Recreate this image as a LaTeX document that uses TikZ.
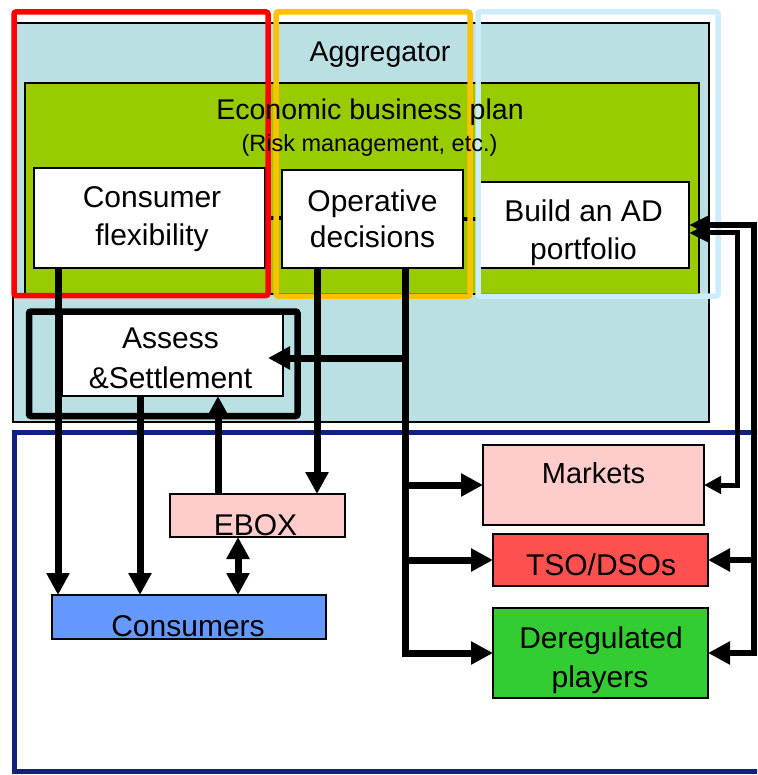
\documentclass[tikz,border=0pt]{standalone}
\usepackage{fontspec}
\setmainfont{Liberation Sans}
\usetikzlibrary{arrows.meta,calc}

\definecolor{aggfill}{RGB}{187,224,227}
\definecolor{planfill}{RGB}{153,204,0}
\definecolor{frred}{RGB}{255,0,0}
\definecolor{frorange}{RGB}{255,192,0}
\definecolor{frlight}{RGB}{204,236,255}
\definecolor{frnavy}{RGB}{18,32,132}
\definecolor{pinkfill}{RGB}{255,204,204}
\definecolor{tsofill}{RGB}{255,80,80}
\definecolor{derfill}{RGB}{51,204,51}
\definecolor{consfill}{RGB}{102,153,255}

\begin{document}
\begin{tikzpicture}[x=1pt,y=-1pt,
  box/.style={draw=black, line width=1.2pt, anchor=north west, inner sep=0pt, outer sep=0pt},
  frame/.style={line width=5.5pt, rounded corners=2pt},
  txt/.style={anchor=base, inner sep=0pt, font=\fontsize{30}{36}\selectfont},
  conn/.style={line width=7pt, -{Triangle[width=22pt,length=22pt]}},
  dconn/.style={line width=7pt, {Triangle[width=22pt,length=22pt]}-{Triangle[width=22pt,length=22pt]}}]

\useasboundingbox (0,0) rectangle (757,775);
\clip (0,0) rectangle (757,775);

% aggregator and business plan areas
\node[box, fill=aggfill, minimum width=696, minimum height=399] (agg) at (13,23) {};
\node[box, fill=planfill, minimum width=674, minimum height=211] (plan) at (25,83) {};

% upper decision boxes
\node[box, fill=white, minimum width=231, minimum height=100] (cf) at (34,168) {};
\node[box, fill=white, minimum width=181, minimum height=98] (od) at (282,170) {};
\node[box, fill=white, minimum width=209, minimum height=86] (bp) at (480,182) {};

\draw[line width=4pt] (cf.east) -- (cf.east -| od.west);
\draw[line width=4pt] (od.east) -- (od.east -| bp.west);

% highlight frames
\draw[frame, frred] (14,12) rectangle (268,295.5);
\draw[frame, frorange] (276,12) rectangle (470,296);
\draw[frame, frlight] (478,12) rectangle (718,296);

% titles
\node[txt, font=\fontsize{28.5}{34}\selectfont] (aggt) at (380,62) {Aggregator};
\node[txt, font=\fontsize{28.5}{34}\selectfont] (plant) at (370,120) {Economic business plan};
\node[txt, font=\fontsize{23.5}{28}\selectfont] (plans) at (369.5,152) {(Risk management, etc.)};

\node[txt] (cf1) at (152,208) {Consumer};
\node[txt] (cf2) at (152,246) {flexibility};
\node[txt] (od1) at (372.5,212) {Operative};
\node[txt] (od2) at (372.5,248) {decisions};
\node[txt] (bp1) at (583.5,222) {Build an AD};
\node[txt] (bp2) at (583.5,260) {portfolio};

% assessment block
\draw[line width=6.5pt, rounded corners=2pt] (29,311.5) rectangle (297.5,416);
\node[box, fill=white, minimum width=221, minimum height=82] (ass) at (62,314) {};
\node[txt] (ass1) at (170.5,348) {Assess};
\node[txt] (ass2) at (170.5,388) {\&Settlement};

% external environment
\draw[line width=5pt, frnavy] (14.5,432) rectangle (800,771);

\node[box, fill=pinkfill, minimum width=175, minimum height=43] (ebox) at (170,494) {};
\node[box, fill=consfill, minimum width=274, minimum height=44] (cons) at (52,595) {};
\node[box, fill=pinkfill, minimum width=221, minimum height=80] (mkt) at (483,445) {};
\node[box, fill=tsofill, minimum width=215, minimum height=52] (tso) at (493,534) {};
\node[box, fill=derfill, minimum width=215, minimum height=90] (der) at (493,608) {};

\node[txt] (ebt) at (255.5,535) {EBOX};
\node[txt] (const) at (188,636) {Consumers};
\node[txt, font=\fontsize{29}{34}\selectfont] (mktt) at (593.5,483) {Markets};
\node[txt] (tsot) at (601,575) {TSO/DSOs};
\node[txt] (der1) at (601,648) {Deregulated};
\node[txt] (der2) at (600,687) {players};

% connector columns
\coordinate (c1) at (58,0);
\coordinate (c2) at (140,0);
\coordinate (c3) at (218,0);
\coordinate (c4) at (238,0);
\coordinate (c5) at (317,0);
\coordinate (ct) at (405,0);
\coordinate (rA) at (737,0);
\coordinate (rB) at (754,0);
\coordinate (asstip) at (268,358);

\draw[conn] (cf.south -| c1) -- (cons.north -| c1);
\draw[conn] (ass.south -| c2) -- (cons.north -| c2);
\draw[conn] (ebox.north -| c3) -- (ass.south -| c3);
\draw[dconn] (ebox.south -| c4) -- (cons.north -| c4);
\draw[conn] (od.south -| c5) -- (ebox.north -| c5);

% decision trunk
\draw[conn] (od.south -| ct) -- (der.west -| ct) -- (der.west);
\draw[conn] (ct |- asstip) -- (asstip);
\draw[conn] (ct |- mkt.west) -- (mkt.west);
\draw[conn] (ct |- tso.west) -- (tso.west);

% portfolio feedback lines
\draw[line width=6pt, {Triangle[width=18pt,length=20pt]}-{Triangle[width=22pt,length=22pt]}]
  (bp.east) -| (rB |- der.east) -- (der.east);
\draw[line width=6pt, -{Triangle[width=22pt,length=22pt]}] (rB |- tso.east) -- (tso.east);
\draw[line width=5pt, {Triangle[width=18pt,length=20pt]}-{Triangle[width=17pt,length=17pt]}]
  ($(bp.east)+(0,8)$) -| (rA |- mkt.east) -- (mkt.east);
\end{tikzpicture}
\end{document}
